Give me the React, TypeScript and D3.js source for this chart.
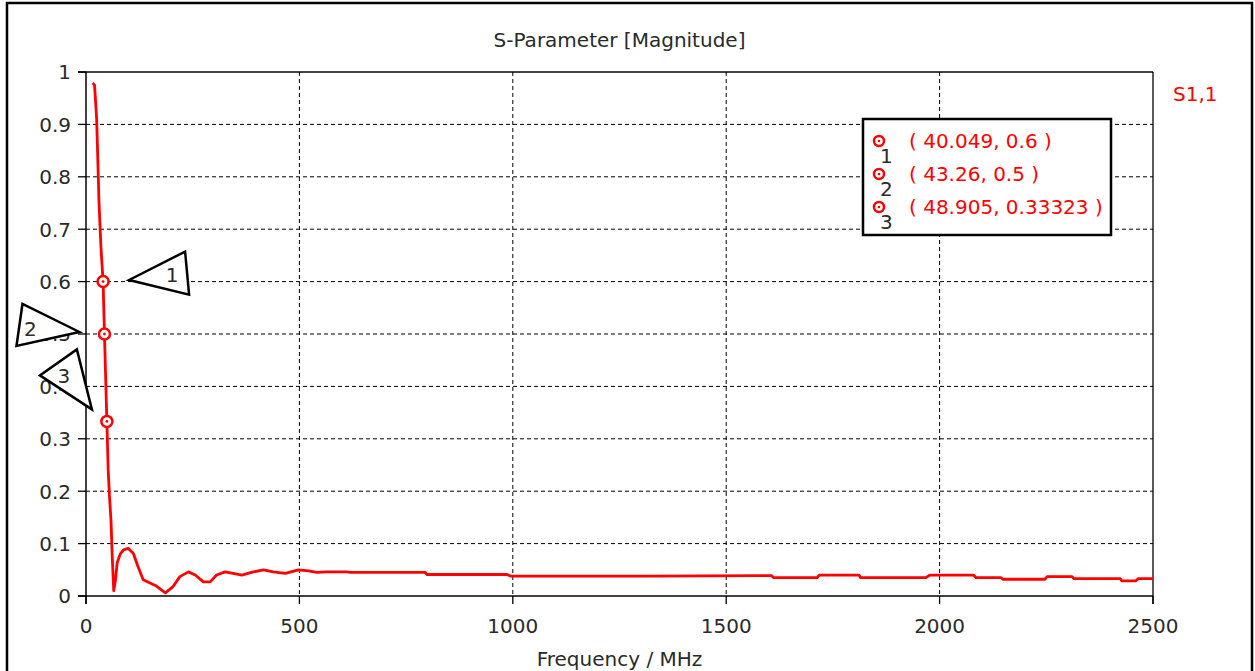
import React from "react";
import * as d3 from "d3";

const freqMHz = [15.7, 20, 25, 30.5, 35, 40.049, 43.26, 48.905, 52, 55, 58.5, 61.5, 65, 69, 73, 80, 88, 99, 111, 122, 134, 150, 165, 186, 204, 220, 240, 256, 275, 291, 306, 326, 345, 365, 392, 416, 439, 467, 498, 521, 541, 564, 611, 619, 795, 799, 987, 994, 1323, 1606, 1611, 1713, 1718, 1811, 1815, 1968, 1977, 2080, 2085, 2144, 2148, 2247, 2252, 2310, 2315, 2423, 2427, 2460, 2465, 2500];
const s11Mag = [0.979, 0.975, 0.91, 0.75, 0.666, 0.6, 0.5, 0.333, 0.24, 0.19, 0.145, 0.075, 0.01, 0.03, 0.063, 0.08, 0.088, 0.091, 0.081, 0.056, 0.031, 0.025, 0.019, 0.006, 0.018, 0.037, 0.046, 0.04, 0.027, 0.027, 0.04, 0.046, 0.043, 0.04, 0.046, 0.05, 0.046, 0.043, 0.05, 0.048, 0.045, 0.046, 0.046, 0.045, 0.045, 0.041, 0.041, 0.038, 0.038, 0.039, 0.035, 0.035, 0.04, 0.04, 0.035, 0.035, 0.04, 0.04, 0.035, 0.035, 0.032, 0.032, 0.037, 0.037, 0.033, 0.033, 0.029, 0.029, 0.033, 0.033];

const markerIds = ["1", "2", "3"];
const markerFreq = [40.049, 43.26, 48.905];
const markerMag = [0.6, 0.5, 0.33323];
const markerText = ["( 40.049, 0.6 )", "( 43.26, 0.5 )", "( 48.905, 0.33323 )"];

const xTicks = [0, 500, 1000, 1500, 2000, 2500];
const yTicks = [0, 0.1, 0.2, 0.3, 0.4, 0.5, 0.6, 0.7, 0.8, 0.9, 1];

// annotation callout offsets relative to marker (triangle points, label)
const callouts = [
  { pts: [[26, -1.6], [82, -30], [86, 13]], label: [69, -7] },
  { pts: [[-25, -2], [-82, -30], [-88, 12]], label: [-74, -5.5] },
  { pts: [[-15, -12], [-30, -72], [-67, -46]], label: [-43, -46] },
];

const FONT = "DejaVu Sans, Verdana, sans-serif";

export default function App() {
  const L = 86, R = 1153, T = 72, B = 596;
  const x = d3.scaleLinear().domain([0, 2500]).range([L, R]);
  const y = d3.scaleLinear().domain([0, 1]).range([B, T]);
  const pts = freqMHz.map((f, i) => [f, s11Mag[i]] as [number, number]);
  const line = d3.line<[number, number]>().x(d => x(d[0])).y(d => y(d[1]));
  const red = "#f00";
  const ink = "#2a2a2a";

  return (
    <svg width={1255} height={671} style={{ position: "absolute", left: 0, top: 0, background: "#fff" }} fontFamily={FONT}>
      <rect x={7} y={3} width={1245} height={700} fill="#fff" stroke="#000" strokeWidth={2.5} />
      <text x={(L + R) / 2} y={47} textAnchor="middle" fontSize={20} fill={ink}>S-Parameter [Magnitude]</text>
      {/* grid */}
      {yTicks.filter(v => v > 0 && v < 1).map(v => (
        <line key={"gy" + v} x1={L} x2={R} y1={y(v)} y2={y(v)} stroke="#000" strokeWidth={1} strokeDasharray="4,3" />
      ))}
      {xTicks.filter(v => v > 0 && v < 2500).map(v => (
        <line key={"gx" + v} x1={x(v)} x2={x(v)} y1={T} y2={B} stroke="#000" strokeWidth={1} strokeDasharray="4,3" />
      ))}
      {/* axes box */}
      <line x1={L - 8} x2={R} y1={T} y2={T} stroke="#000" strokeWidth={1.3} />
      <line x1={R} x2={R} y1={T} y2={B + 8} stroke="#000" strokeWidth={1.3} />
      <line x1={L} x2={L} y1={T} y2={B + 8} stroke="#000" strokeWidth={1.5} />
      <line x1={L - 8} x2={R} y1={B} y2={B} stroke="#000" strokeWidth={1.5} />
      {yTicks.map(v => (
        <g key={"ty" + v}>
          <line x1={L - 8} x2={L} y1={y(v)} y2={y(v)} stroke="#000" strokeWidth={1.3} />
          <text x={71} y={y(v) + 7.3} textAnchor="end" fontSize={20} fill={ink}>{String(v)}</text>
        </g>
      ))}
      {xTicks.map(v => (
        <g key={"tx" + v}>
          <line x1={x(v)} x2={x(v)} y1={B} y2={B + 8} stroke="#000" strokeWidth={1.3} />
          <text x={x(v)} y={633} textAnchor="middle" fontSize={20} fill={ink}>{String(v)}</text>
        </g>
      ))}
      <text x={(L + R) / 2} y={666} textAnchor="middle" fontSize={20} fill={ink}>Frequency / MHz</text>
      <text x={1173} y={101} fontSize={20} fill={red}>S1,1</text>
      {/* curve */}
      <path d={line(pts) || ""} fill="none" stroke={red} strokeWidth={2.8} strokeLinejoin="round" />
      {/* markers */}
      {markerIds.map((id, i) => {
        const mx = x(markerFreq[i]), my = y(markerMag[i]);
        const c = callouts[i];
        const poly = c.pts.map(p => `${mx + p[0]},${my + p[1]}`).join(" ");
        return (
          <g key={"m" + id}>
            <polygon points={poly} fill="#fff" stroke="#000" strokeWidth={2.5} strokeLinejoin="miter" />
            <text x={mx + c.label[0]} y={my + c.label[1] + 7.3} textAnchor="middle" fontSize={20} fill={ink}>{id}</text>
            <circle cx={mx} cy={my} r={5.5} fill="#fff" stroke={red} strokeWidth={2.5} />
            <circle cx={mx} cy={my} r={1.4} fill={red} />
          </g>
        );
      })}
      {/* marker table */}
      <rect x={863} y={119} width={248} height={116} fill="#fff" stroke="#000" strokeWidth={2.5} />
      {markerIds.map((id, i) => {
        const cy = 141 + i * 33;
        return (
          <g key={"lg" + id}>
            <circle cx={879} cy={cy} r={5} fill="#fff" stroke={red} strokeWidth={2.5} />
            <circle cx={879} cy={cy} r={1.3} fill={red} />
            <text x={880} y={cy + 22} fontSize={20} fill={ink}>{id}</text>
            <text x={909} y={cy + 7.3} fontSize={20} fill={red}>{markerText[i]}</text>
          </g>
        );
      })}
    </svg>
  );
}
